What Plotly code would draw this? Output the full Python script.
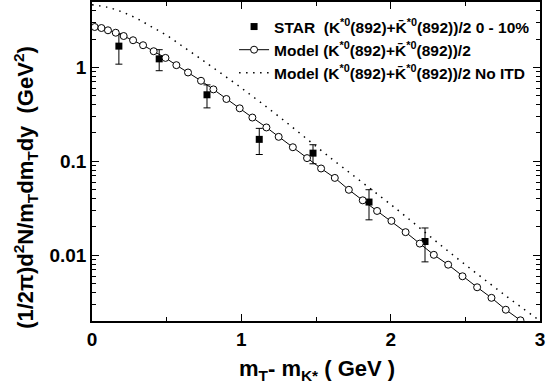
import plotly.graph_objects as go

# STAR data
star_x = [0.18, 0.45, 0.77, 1.12, 1.48, 1.855, 2.23]
star_y = [1.68, 1.23, 0.51, 0.171, 0.122, 0.0368, 0.014]
star_err = [0.6, 0.31, 0.14, 0.053, 0.028, 0.013, 0.0055]

# Model curve (circles)
model_x = [0.018, 0.063, 0.107, 0.159, 0.212, 0.275, 0.342, 0.413, 0.492, 0.565,
           0.643, 0.73, 0.813, 0.90, 0.989, 1.074, 1.168, 1.25, 1.345, 1.44,
           1.534, 1.626, 1.72, 1.813, 1.909, 2.005, 2.10, 2.195, 2.289, 2.385,
           2.481, 2.579, 2.675, 2.771, 2.869]
model_y = [2.685, 2.618, 2.477, 2.333, 2.153, 1.941, 1.718, 1.483, 1.259, 1.054,
           0.881, 0.719, 0.582, 0.460, 0.366, 0.292, 0.229, 0.182, 0.141, 0.108,
           0.0838, 0.0665, 0.0497, 0.0384, 0.0296, 0.0232, 0.0176, 0.0133, 0.0101, 0.00793,
           0.00597, 0.00456, 0.00352, 0.00263, 0.00203]

# Model without ITD (dotted)
noitd_x = [0.0, 0.1, 0.2, 0.3, 0.4, 0.5, 0.6, 0.7, 0.8, 1.0, 1.257, 1.57, 2.04, 2.396, 2.753, 3.0]
noitd_y = [4.62, 4.37, 3.89, 3.31, 2.69, 2.19, 1.70, 1.32, 1.02, 0.603, 0.295, 0.1175,
           0.0309, 0.0107, 0.00389, 0.0020]

x_ticks = [0, 1, 2, 3]
y_ticks = [0.01, 0.1, 1]
y_ticktext = ["0.01", "0.1", "1"]

KBAR = "K\u0304"
FONT = "Liberation Sans, Arial, sans-serif"

fig = go.Figure()

fig.add_trace(go.Scatter(
    x=star_x, y=star_y, mode="markers",
    marker=dict(symbol="square", size=7, color="black"),
    error_y=dict(type="data", array=star_err, color="black", thickness=1, width=3.5),
    name="STAR  (K<sup>*0</sup>(892)+" + KBAR + "<sup>*0</sup>(892))/2 0 - 10%",
    legendrank=1,
))
fig.add_trace(go.Scatter(
    x=model_x, y=model_y, mode="lines+markers",
    line=dict(color="black", width=1),
    marker=dict(symbol="circle", size=7, color="white", line=dict(color="black", width=1)),
    name="Model (K<sup>*0</sup>(892)+" + KBAR + "<sup>*0</sup>(892))/2",
    legendrank=2,
))
fig.add_trace(go.Scatter(
    x=noitd_x, y=noitd_y, mode="lines",
    line=dict(color="black", width=1.5, dash="1.5px,5.5px", shape="spline"),
    name="Model (K<sup>*0</sup>(892)+" + KBAR + "<sup>*0</sup>(892))/2 No ITD",
    legendrank=3,
))

fig.update_layout(
    width=547, height=390,
    margin=dict(l=92, r=7, t=0, b=69),
    paper_bgcolor="white", plot_bgcolor="white",
    font=dict(family=FONT, color="black"),
    showlegend=True,
    legend=dict(
        x=0.989, y=0.975, xanchor="right", yanchor="top",
        bgcolor="rgba(0,0,0,0)", borderwidth=0,
        font=dict(family=FONT, size=15.5, color="black", weight="bold"),
        itemwidth=30, tracegroupgap=0,
    ),
)

fig.update_xaxes(
    range=[0, 3], tickvals=x_ticks, ticktext=[str(v) for v in x_ticks],
    showline=True, linecolor="black", linewidth=1.5, mirror="allticks",
    ticks="inside", ticklen=7, tickwidth=1.2, tickcolor="black",
    showgrid=False, zeroline=False,
    tickfont=dict(family=FONT, size=19, color="black", weight="bold"),
    minor=dict(ticks="inside", ticklen=4, tickwidth=1.2, tickcolor="black", dtick=0.5, showgrid=False),
)
fig.update_yaxes(
    type="log", range=[-2.70, 0.695],
    tickvals=y_ticks, ticktext=y_ticktext,
    showline=True, linecolor="black", linewidth=1.5, mirror="allticks",
    ticks="inside", ticklen=7, tickwidth=1.2, tickcolor="black",
    showgrid=False, zeroline=False,
    tickfont=dict(family=FONT, size=19, color="black", weight="bold"),
    minor=dict(ticks="inside", ticklen=4, tickwidth=1.2, tickcolor="black", dtick="D1", showgrid=False),
)

fig.add_annotation(
    text="(1/2\u03c0)d<sup>2</sup>N/m<sub>T</sub>dm<sub>T</sub>dy  (GeV<sup>2</sup>)",
    xref="paper", yref="paper", x=-0.15, y=0.42, xanchor="center", yanchor="middle",
    textangle=-90, showarrow=False,
    font=dict(family=FONT, size=22, color="black", weight="bold"),
)
fig.add_annotation(
    text="m<sub>T</sub>- m<sub>K*</sub> ( GeV )",
    xref="paper", yref="paper", x=0.503, y=-0.153, xanchor="center", yanchor="middle",
    showarrow=False,
    font=dict(family=FONT, size=22, color="black", weight="bold"),
)

fig.write_html("out.html")
